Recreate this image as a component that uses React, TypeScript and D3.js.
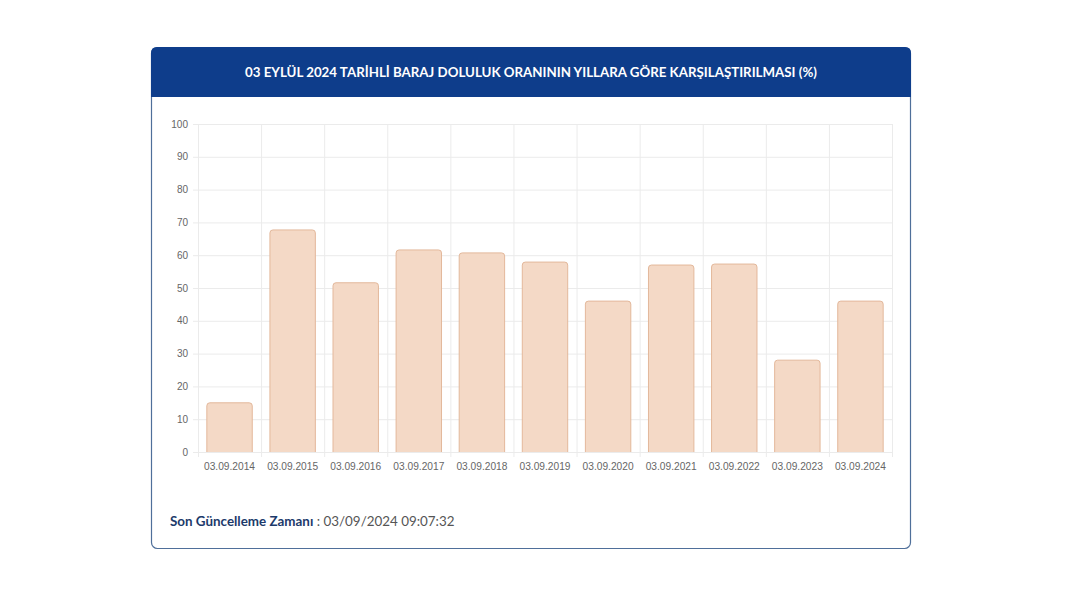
import React from "react";
import * as d3 from "d3";

const categories = ["03.09.2014","03.09.2015","03.09.2016","03.09.2017","03.09.2018","03.09.2019","03.09.2020","03.09.2021","03.09.2022","03.09.2023","03.09.2024"];
const values = [15, 67.7, 51.6, 61.6, 60.7, 57.9, 46.0, 57.0, 57.3, 28.0, 46.0];
const yTicks = [0,10,20,30,40,50,60,70,80,90,100];
const title = "03 EYLÜL 2024 TARİHLİ BARAJ DOLULUK ORANININ YILLARA GÖRE KARŞILAŞTIRILMASI (%)";

export default function App() {
  const W = 1068, H = 601;
  const x = d3.scaleBand().domain(categories).range([198, 892]).paddingInner(0.28).paddingOuter(0.14);
  const xb = d3.scaleBand().domain(categories).range([198, 892]);
  const y = d3.scaleLinear().domain([0, 100]).range([452, 124]);
  const r = 3;
  const barPath = (xx: number, yy: number, w: number, h: number) => {
    const rr = Math.min(r, h);
    return `M${xx},${yy + h} L${xx},${yy + rr} Q${xx},${yy} ${xx + rr},${yy} L${xx + w - rr},${yy} Q${xx + w},${yy} ${xx + w},${yy + rr} L${xx + w},${yy + h}`;
  };
  return (
    <svg width={W} height={H} style={{ position: "absolute", left: 0, top: 0, background: "#fff" }} fontFamily="'Open Sans', sans-serif">
      <rect x={151.5} y={47.5} width={759} height={501} rx={6} fill="#fff" stroke="#4f6f9a" strokeWidth={1.2} />
      <path d={`M151,97 L151,53 Q151,47 157,47 L905,47 Q911,47 911,53 L911,97 Z`} fill="#0e3d8b" />
      <text x={531} y={76.5} textAnchor="middle" fill="#fff" fontSize={13.3} fontWeight={700} fontFamily="Lato, 'Open Sans', sans-serif">{title}</text>
      {yTicks.map(t => (
        <g key={t}>
          <line x1={193} x2={892} y1={y(t) + 0.5} y2={y(t) + 0.5} stroke="#ebebeb" />
          <text x={188} y={y(t) + 3.5} textAnchor="end" fontSize={10} fill="#666" fontFamily="'Liberation Sans', Arial, sans-serif">{t}</text>
        </g>
      ))}
      {categories.map((c) => (
        <line key={c} x1={xb(c)! + 0.5} x2={xb(c)! + 0.5} y1={124} y2={457} stroke="#ebebeb" />
      ))}
      <line x1={892.5} x2={892.5} y1={124} y2={457} stroke="#ebebeb" />
      {categories.map((c, i) => (
        <path key={c} d={barPath(x(c)!, y(values[i]), x.bandwidth(), y(0) - y(values[i]))} fill="#f4d9c6" stroke="#e3b89b" strokeWidth={1} />
      ))}
      {categories.map(c => (
        <text key={c} x={xb(c)! + xb.bandwidth() / 2} y={469.5} textAnchor="middle" fontSize={10.2} fill="#666" fontFamily="'Liberation Sans', Arial, sans-serif">{c}</text>
      ))}
      <text x={170} y={526} fontSize={13.4} fontFamily="Lato, 'Open Sans', sans-serif">
        <tspan fill="#1c3a6b" fontWeight={700}>Son Güncelleme Zamanı</tspan>
        <tspan fill="#555"> : 03/09/2024 09:07:32</tspan>
      </text>
    </svg>
  );
}
